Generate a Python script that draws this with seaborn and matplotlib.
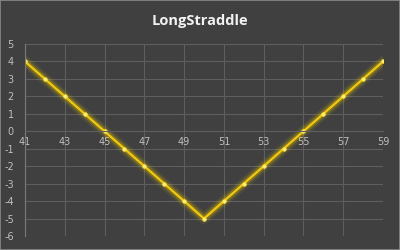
import matplotlib
matplotlib.use("Agg")
import matplotlib.pyplot as plt
import seaborn as sns
import pandas as pd

strikes = [41, 42, 43, 44, 45, 46, 47, 48, 49, 50, 51, 52, 53, 54, 55, 56, 57, 58, 59]
payoff = [4, 3, 2, 1, 0, -1, -2, -3, -4, -5, -4, -3, -2, -1, 0, 1, 2, 3, 4]
x_ticks = [41, 43, 45, 47, 49, 51, 53, 55, 57, 59]
y_ticks = [-6, -5, -4, -3, -2, -1, 0, 1, 2, 3, 4, 5]
title = "LongStraddle"

df = pd.DataFrame({"strike": strikes, "payoff": payoff})

sns.set_style("dark")
bg = "#404040"
fig = plt.figure(figsize=(4, 2.5), dpi=100, facecolor=bg)
ax = fig.add_axes([0.0625, 0.056, 0.895, 0.768])
ax.set_facecolor(bg)

# glow layers
for lw, a in [(8, 0.07), (5.5, 0.11), (3.8, 0.18)]:
    sns.lineplot(data=df, x="strike", y="payoff", ax=ax, color="#FFE000",
                 linewidth=lw, alpha=a, solid_capstyle="round")
sns.lineplot(data=df, x="strike", y="payoff", ax=ax, color="#F5C800",
             linewidth=1.6, marker="o", markersize=2.6,
             markerfacecolor="#FFF27A", markeredgecolor="#FFE23A", markeredgewidth=0.5)

ax.set_xlim(41, 59)
ax.set_ylim(-6, 5)
ax.set_xticks(x_ticks)
ax.set_yticks(y_ticks)
ax.set_xticklabels([str(t) for t in x_ticks])
ax.set_yticklabels([str(t) for t in y_ticks])
ax.grid(True, color="#5E5E5E", linewidth=0.8)
ax.set_axisbelow(True)

for s in ["top", "right"]:
    ax.spines[s].set_visible(False)
ax.spines["left"].set_color("#7A7A7A")
ax.spines["left"].set_linewidth(0.8)
ax.spines["bottom"].set_position(("data", 0))
ax.spines["bottom"].set_color("#5E5E5E")
ax.spines["bottom"].set_linewidth(0.8)

ax.tick_params(axis="both", length=0, colors="#BFBFBF", labelsize=7)
ax.tick_params(axis="x", pad=4)
ax.tick_params(axis="y", pad=8)
for lab in ax.get_yticklabels():
    lab.set_horizontalalignment("right")
ax.set_xlabel("")
ax.set_ylabel("")

fig.text(0.5, 0.915, title, ha="center", va="center", color="#F2F2F2",
         fontsize=10.5, fontweight="bold", family="Open Sans")

# thin frame
fig.patches.append(plt.Rectangle((0, 0), 1, 1, transform=fig.transFigure,
                                 fill=False, edgecolor="#8A8A8A", linewidth=1.2))

fig.savefig("out.png", dpi=100, facecolor=bg)
